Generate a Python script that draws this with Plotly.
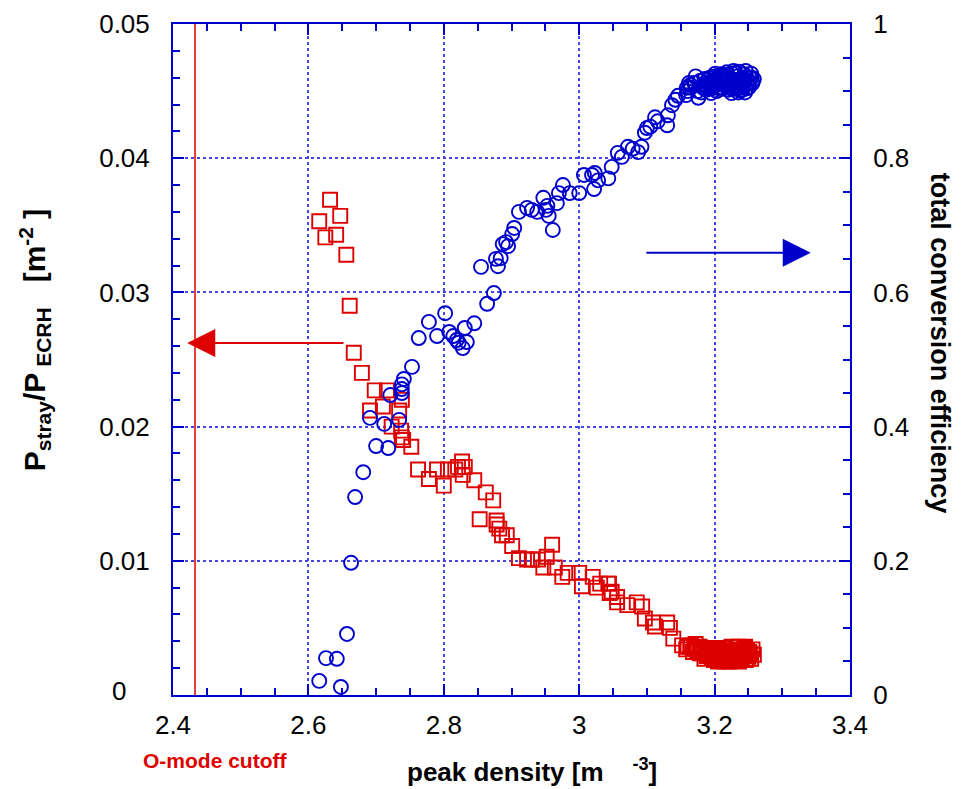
import plotly.graph_objects as go

# ---------------- data ----------------
# red squares: P_stray / P_ECRH (left axis) vs peak density
density_sq = [2.632, 2.647, 2.616, 2.625, 2.641, 2.656, 2.661, 2.667, 2.679, 2.698,
              2.716, 2.691, 2.710, 2.734, 2.738, 2.723, 2.737, 2.738, 2.740, 2.752,
              2.762, 2.778, 2.790, 2.800, 2.806, 2.817, 2.827, 2.821, 2.831, 2.828,
              2.845, 2.862, 2.873, 2.853, 2.878, 2.878, 2.882, 2.886, 2.893, 2.901,
              2.911, 2.923, 2.930, 2.960, 2.952, 2.947, 2.939, 2.964, 2.975, 2.983,
              3.000, 3.004, 3.020, 3.026, 3.031, 3.043, 3.044, 3.045, 3.048, 3.056,
              3.056, 3.071, 3.085, 3.093, 3.097, 3.109, 3.112, 3.130, 3.134, 3.139,
              3.152, 3.164, 3.174, 3.189,
              3.165, 3.170, 3.175, 3.178, 3.182, 3.185, 3.188, 3.190, 3.193, 3.196,
              3.198, 3.200, 3.203, 3.205, 3.207, 3.210, 3.212, 3.214, 3.216, 3.218,
              3.220, 3.222, 3.224, 3.226, 3.228, 3.230, 3.232, 3.234, 3.236, 3.238,
              3.240, 3.242, 3.244, 3.246, 3.248, 3.250, 3.252, 3.254, 3.256, 3.258,
              3.245, 3.235, 3.225, 3.215, 3.205, 3.195, 3.185, 3.178, 3.172, 3.160,
              3.158, 3.168, 3.181, 3.191, 3.201, 3.211, 3.221, 3.231, 3.241, 3.251,
              3.219, 3.229, 3.239, 3.249, 3.209, 3.199]
stray_ratio = [0.0369, 0.0357, 0.0353, 0.0341, 0.0343, 0.0328, 0.0290, 0.0255, 0.0240, 0.0227,
               0.0227, 0.0212, 0.0215, 0.0212, 0.0220, 0.0200, 0.0197, 0.0192, 0.0190, 0.0185,
               0.0168, 0.0161, 0.0168, 0.0156, 0.0168, 0.0168, 0.0174, 0.0170, 0.0170, 0.0164,
               0.0160, 0.0151, 0.0145, 0.0131, 0.0130, 0.0127, 0.0124, 0.0119, 0.0119, 0.0111,
               0.0102, 0.0101, 0.0101, 0.0112, 0.0103, 0.0095, 0.0101, 0.0095, 0.0088, 0.0091,
               0.0091, 0.0081, 0.0088, 0.0080, 0.0083, 0.0083, 0.0083, 0.0076, 0.0077, 0.0073,
               0.0069, 0.0067, 0.0069, 0.0066, 0.0057, 0.0054, 0.0051, 0.0054, 0.0050, 0.0042,
               0.0037, 0.0036, 0.0034, 0.0030,
               0.0037, 0.0035, 0.0033, 0.0036, 0.0031, 0.0034, 0.0029, 0.0032, 0.0035, 0.0028,
               0.0031, 0.0033, 0.0027, 0.0030, 0.0034, 0.0026, 0.0029, 0.0032, 0.0035, 0.0027,
               0.0030, 0.0025, 0.0033, 0.0028, 0.0031, 0.0026, 0.0034, 0.0029, 0.0025, 0.0032,
               0.0027, 0.0030, 0.0035, 0.0026, 0.0033, 0.0029, 0.0031, 0.0027, 0.0034, 0.0030,
               0.0036, 0.0036, 0.0036, 0.0025, 0.0025, 0.0030, 0.0027, 0.0031, 0.0038, 0.0036,
               0.0034, 0.0032, 0.0033, 0.0029, 0.0028, 0.0031, 0.0027, 0.0028, 0.0029, 0.0032,
               0.0033, 0.0032, 0.0028, 0.0027, 0.0033, 0.0026]

# blue circles: total conversion efficiency (right axis) vs peak density
density_circ = [2.616, 2.648, 2.626, 2.642, 2.657, 2.663, 2.669, 2.681, 2.691, 2.700,
                2.712, 2.718, 2.721, 2.734, 2.738, 2.738, 2.738, 2.741, 2.753, 2.763,
                2.778, 2.790, 2.802, 2.808, 2.814, 2.819, 2.822, 2.828, 2.831, 2.845,
                2.834, 2.864, 2.874, 2.855, 2.877, 2.880, 2.884, 2.887, 2.892, 2.895,
                2.901, 2.904, 2.911, 2.923, 2.930, 2.938, 2.947, 2.953, 2.951, 2.955,
                2.961, 2.967, 2.970, 2.976, 2.986, 3.000, 3.007, 3.019, 3.023, 3.022,
                3.028, 3.043, 3.048, 3.057, 3.063, 3.072, 3.079, 3.087, 3.092, 3.097,
                3.100, 3.105, 3.112, 3.116, 3.130, 3.131, 3.137, 3.142, 3.146, 3.158,
                3.159, 3.164, 3.171, 3.176,
                3.165, 3.170, 3.175, 3.178, 3.182, 3.185, 3.188, 3.190, 3.193, 3.196,
                3.198, 3.200, 3.203, 3.205, 3.207, 3.210, 3.212, 3.214, 3.216, 3.218,
                3.220, 3.222, 3.224, 3.226, 3.228, 3.230, 3.232, 3.234, 3.236, 3.238,
                3.240, 3.242, 3.244, 3.246, 3.248, 3.250, 3.252, 3.254, 3.256, 3.258,
                3.245, 3.235, 3.225, 3.195, 3.180, 3.172, 3.160, 3.162, 3.186, 3.197,
                3.208, 3.219, 3.229, 3.239, 3.249, 3.213, 3.223, 3.233, 3.243, 3.201,
                3.184, 3.189, 3.194, 3.199, 3.204, 3.209, 3.215, 3.221, 3.227, 3.233,
                3.237, 3.241, 3.247, 3.251, 3.255, 3.191, 3.202, 3.217, 3.231, 3.244,
                3.206, 3.218, 3.226, 3.236, 3.248, 3.187, 3.196, 3.211, 3.224, 3.239]
conversion_eff = [0.021, 0.012, 0.055, 0.054, 0.091, 0.197, 0.295, 0.332, 0.413, 0.371,
                  0.404, 0.368, 0.447, 0.410, 0.450, 0.456, 0.463, 0.471, 0.489, 0.532,
                  0.556, 0.535, 0.569, 0.541, 0.535, 0.529, 0.525, 0.517, 0.547, 0.554,
                  0.526, 0.583, 0.599, 0.638, 0.650, 0.639, 0.651, 0.672, 0.675, 0.669,
                  0.687, 0.696, 0.720, 0.726, 0.723, 0.720, 0.741, 0.729, 0.723, 0.714,
                  0.693, 0.733, 0.748, 0.760, 0.748, 0.748, 0.775, 0.775, 0.778, 0.754,
                  0.767, 0.770, 0.787, 0.808, 0.802, 0.817, 0.814, 0.809, 0.817, 0.838,
                  0.845, 0.847, 0.861, 0.855, 0.849, 0.864, 0.879, 0.887, 0.893, 0.894,
                  0.905, 0.909, 0.912, 0.890,
                  0.905, 0.912, 0.900, 0.915, 0.908, 0.918, 0.902, 0.912, 0.920, 0.906,
                  0.915, 0.922, 0.900, 0.910, 0.918, 0.925, 0.905, 0.914, 0.921, 0.928,
                  0.902, 0.911, 0.919, 0.926, 0.930, 0.906, 0.915, 0.922, 0.929, 0.901,
                  0.910, 0.918, 0.925, 0.930, 0.904, 0.913, 0.920, 0.926, 0.912, 0.918,
                  0.898, 0.898, 0.897, 0.897, 0.898, 0.922, 0.900, 0.912, 0.910, 0.913,
                  0.916, 0.917, 0.914, 0.913, 0.916, 0.910, 0.908, 0.909, 0.908, 0.926,
                  0.904, 0.907, 0.911, 0.908, 0.915, 0.903, 0.908, 0.905, 0.903, 0.904,
                  0.915, 0.902, 0.921, 0.906, 0.920, 0.917, 0.913, 0.924, 0.927, 0.917,
                  0.922, 0.911, 0.911, 0.917, 0.910, 0.913, 0.904, 0.922, 0.915, 0.905]

o_mode_cutoff = 2.4325
x_ticks = [2.4, 2.6, 2.8, 3.0, 3.2, 3.4]
x_tick_labels = ["2.4", "2.6", "2.8", "3", "3.2", "3.4"]
left_ticks = [0, 0.01, 0.02, 0.03, 0.04, 0.05]
left_tick_labels = ["0", "0.01", "0.02", "0.03", "0.04", "0.05"]
right_ticks = [0, 0.2, 0.4, 0.6, 0.8, 1.0]
right_tick_labels = ["0", "0.2", "0.4", "0.6", "0.8", "1"]

RED = "rgb(221,0,0)"
BLUE = "rgb(0,0,204)"
GRID = "rgb(70,70,230)"
FONT = "Liberation Sans, Arial, sans-serif"
TICKFONT = dict(family=FONT, size=26, color="black")

fig = go.Figure()
fig.add_trace(go.Scatter(
    x=density_circ, y=conversion_eff, mode="markers", xaxis="x", yaxis="y2",
    marker=dict(symbol="circle-open", size=14, color=BLUE, line=dict(width=1.9, color=BLUE)),
    showlegend=False, hoverinfo="skip"))
fig.add_trace(go.Scatter(
    x=density_sq, y=stray_ratio, mode="markers",
    marker=dict(symbol="square-open", size=14, color=RED, line=dict(width=1.9, color=RED)),
    showlegend=False, hoverinfo="skip"))
# invisible trace to anchor the top (mirror) axis
fig.add_trace(go.Scatter(x=[2.4], y=[0], xaxis="x2", yaxis="y", mode="markers",
                         marker=dict(opacity=0), showlegend=False, hoverinfo="skip"))

def minor(dt, t0):
    return dict(dtick=dt, tick0=t0, ticks="inside", ticklen=7, tickcolor=BLUE, tickwidth=2, showgrid=False)

base = dict(showline=True, linecolor=BLUE, linewidth=2, ticks="inside", automargin=False,
            tickcolor=BLUE, tickwidth=2, ticklen=11, tickfont=TICKFONT, zeroline=False)

fig.update_layout(
    width=962, height=789,
    margin=dict(l=165, r=120, t=16, b=102),
    paper_bgcolor="white", plot_bgcolor="white",
    xaxis=dict(range=[2.4, 3.4], tickvals=x_ticks, ticktext=x_tick_labels,
               showgrid=True, gridcolor=GRID, griddash="dot", gridwidth=2,
               minor=minor(0.05, 2.4), ticklabelstandoff=6, **base),
    xaxis2=dict(range=[2.4, 3.4], tickvals=x_ticks, showticklabels=False,
                overlaying="x", side="top", showgrid=False,
                minor=minor(0.05, 2.4), **base),
    yaxis=dict(range=[0, 0.05], tickvals=left_ticks, ticktext=[""] + left_tick_labels[1:],
               showgrid=True, gridcolor=GRID, griddash="dot", gridwidth=2,
               minor=minor(0.002, 0), ticklabelstandoff=16, **base),
    yaxis2=dict(range=[0, 1], tickvals=right_ticks, ticktext=right_tick_labels,
                overlaying="y", side="right", showgrid=False,
                minor=minor(0.05, 0), ticklabelstandoff=16, **base),
)

# zero label of the left axis (set further left in the original)
fig.add_annotation(xref="paper", yref="y", x=-0.066, y=left_ticks[0], xanchor="right", yanchor="middle",
                   yshift=4, text=left_tick_labels[0], showarrow=False, font=TICKFONT)

# O-mode cutoff vertical line
fig.add_shape(type="line", xref="x", yref="paper", x0=o_mode_cutoff, x1=o_mode_cutoff, y0=0, y1=1,
              line=dict(color=RED, width=1.5))

# arrows
fig.add_annotation(x=2.421, y=0.02623, ax=2.654, ay=0.02623, xref="x", yref="y", axref="x", ayref="y",
                   showarrow=True, arrowhead=2, arrowsize=2.8, arrowwidth=2, arrowcolor=RED, text="")
fig.add_annotation(x=3.342, y=0.659, ax=3.097, ay=0.659, xref="x", yref="y2", axref="x", ayref="y2",
                   showarrow=True, arrowhead=2, arrowsize=2.8, arrowwidth=2, arrowcolor=BLUE, text="")

# titles
fig.add_annotation(xref="paper", yref="paper", x=-0.204, y=0.53, xanchor="center", yanchor="middle",
                   text="<b>P<sub>stray</sub>/P<sub> ECRH</sub>   [m<sup>-2</sup> ]</b>", textangle=-90,
                   showarrow=False, font=dict(family=FONT, size=30, color="black"))
fig.add_annotation(xref="paper", yref="paper", x=1.133, y=0.525, xanchor="center", yanchor="middle",
                   text="<b>total conversion efficiency</b>", textangle=90,
                   showarrow=False, font=dict(family=FONT, size=27, color="black"))
fig.add_annotation(xref="paper", yref="paper", x=0.53, y=-0.113, xanchor="center", yanchor="middle",
                   text="<b>peak density [m    <sup>-3</sup>]</b>",
                   showarrow=False, font=dict(family=FONT, size=26, color="black"))
fig.add_annotation(xref="paper", yref="paper", x=0.062, y=-0.097, xanchor="center", yanchor="middle",
                   text="<b>O-mode cutoff</b>",
                   showarrow=False, font=dict(family=FONT, size=21, color=RED))

fig.write_html("out.html")
